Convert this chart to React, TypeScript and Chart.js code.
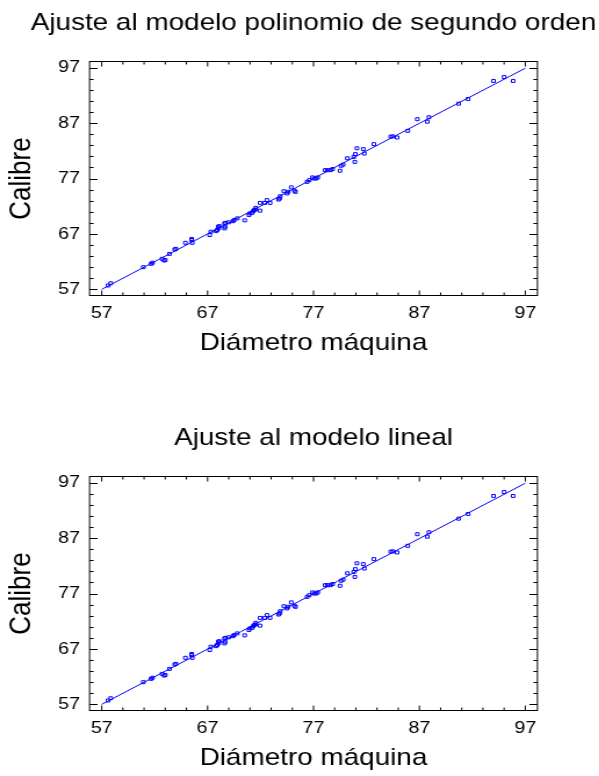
import React, { useEffect, useRef } from "react";
import { Chart, registerables } from "chart.js";

Chart.register(...registerables);

// ---- data ----
const diametro: number[] = [
  57.6, 57.85, 60.93, 61.66, 61.8, 62.7, 62.9, 63.0, 63.4, 63.9, 64.0, 64.9, 65.5, 65.5, 65.55,
  67.2, 67.3, 67.8, 67.9, 68.05, 68.1, 68.0, 68.6, 68.65, 68.6, 68.7, 69.0, 69.4, 69.5, 69.8,
  70.5, 70.9, 71.0, 71.2, 71.3, 71.4, 71.55, 71.5, 71.96, 71.95, 72.4, 72.6, 72.9, 73.7, 73.8,
  73.85, 74.2, 74.5, 74.6, 74.9, 75.3, 75.2, 76.4, 76.6, 76.9, 77.07, 77.25, 77.4, 78.1, 78.3,
  78.6, 78.8, 79.5, 79.6, 79.8, 80.2, 80.8, 80.95, 80.9, 81.1, 81.7, 81.8, 82.7, 84.3, 84.5,
  84.9, 85.9, 86.8, 87.75, 87.9, 90.7, 91.6, 94.0, 95.0, 95.85,
];
const calibre: number[] = [
  57.7, 58.1, 61.0, 61.6, 61.8, 62.5, 62.2, 62.3, 63.4, 64.2, 64.3, 65.4, 65.9, 66.1, 65.4,
  66.8, 67.4, 67.5, 67.7, 68.0, 68.4, 68.3, 68.0, 68.3, 68.9, 69.0, 69.1, 69.3, 69.5, 69.8,
  69.45, 70.4, 70.7, 70.8, 71.1, 71.3, 71.7, 71.4, 72.6, 71.2, 72.6, 73.1, 72.6, 73.2, 73.4,
  73.8, 74.7, 74.3, 74.6, 75.4, 74.6, 74.8, 76.4, 76.7, 77.2, 77.0, 77.0, 77.2, 78.5, 78.5,
  78.5, 78.7, 78.4, 79.3, 79.5, 80.65, 80.9, 81.4, 80.0, 82.45, 82.3, 81.5, 83.2, 84.55, 84.6,
  84.4, 85.6, 87.7, 87.25, 88.05, 90.5, 91.35, 94.6, 95.3, 94.6,
];

// fitted lines
const fitPolyX: number[] = [57, 77, 97];
const fitPolyY: number[] = [57.0, 77.0, 96.9];
const fitLinX: number[] = [57, 97];
const fitLinY: number[] = [57.0, 96.9];

const majorTicks: number[] = [57, 67, 77, 87, 97];
const minorTicks: number[] = [57, 59, 61, 63, 65, 67, 69, 71, 73, 75, 77, 79, 81, 83, 85, 87, 89, 91, 93, 95, 97];
const axisMin = 55.8;
const axisMax = 98.2;

const titlePoly = "Ajuste al modelo polinomio de segundo orden";
const titleLin = "Ajuste al modelo lineal";
const xTitle = "Diámetro máquina";
const yTitle = "Calibre";

const FONT = "'Liberation Sans', Arial, Helvetica, sans-serif";
const BLUE = "#0000ff";

// The reference is drawn slightly wider than tall: the canvas is rendered
// narrower and shown stretched horizontally.
const DISPLAY_W = 627;
const CANVAS_W = 540;
const CANVAS_H = 361;
const SX = DISPLAY_W / CANVAS_W;
const SIDE = 89 / SX; // y-axis box width (internal px)

const framePlugin = {
  id: "frameTicks",
  afterDatasetsDraw(chart: any) {
    const { ctx, chartArea } = chart;
    const { left, right, top, bottom } = chartArea;
    const xs = chart.scales.x;
    const ys = chart.scales.y;
    ctx.save();
    ctx.strokeStyle = "#000";
    ctx.lineWidth = 1;
    const L = left + 0.5;
    const R = right - 0.5;
    const T = Math.round(top) + 0.5;
    const B = Math.round(bottom) - 0.5;
    ctx.strokeRect(L, T, R - L, B - T);
    ctx.beginPath();
    for (const v of minorTicks) {
      const major = majorTicks.includes(v);
      const px = xs.getPixelForValue(v);
      const lx = major ? 5 : 3;
      ctx.moveTo(px, B);
      ctx.lineTo(px, B - lx);
      ctx.moveTo(px, T);
      ctx.lineTo(px, T + lx);
      const py = Math.round(ys.getPixelForValue(v)) + 0.5;
      const ly = (major ? 8 : 4) / SX;
      ctx.moveTo(L, py);
      ctx.lineTo(L + ly, py);
      ctx.moveTo(R, py);
      ctx.lineTo(R - ly, py);
    }
    ctx.stroke();
    ctx.restore();
  },
};

function makeConfig(title: string, fx: number[], fy: number[]): any {
  const pts = diametro.map((x, i) => ({ x, y: calibre[i] }));
  const line = fx.map((x, i) => ({ x, y: fy[i] }));
  const setTicks = (scale: any) => {
    scale.ticks = majorTicks.map((v) => ({ value: v }));
  };
  return {
    type: "scatter",
    data: {
      datasets: [
        {
          type: "line",
          data: line,
          borderColor: BLUE,
          borderWidth: 1,
          pointRadius: 0,
          fill: false,
          tension: 0.4,
          showLine: true,
        },
        {
          data: pts,
          pointStyle: "rect",
          pointRadius: 2.1,
          pointBorderWidth: 1,
          pointBorderColor: BLUE,
          pointBackgroundColor: "rgba(0,0,0,0)",
          borderColor: BLUE,
          backgroundColor: "rgba(0,0,0,0)",
        },
      ],
    },
    options: {
      responsive: false,
      animation: false,
      devicePixelRatio: 1,
      layout: { padding: 0 },
      plugins: {
        legend: { display: false },
        tooltip: { enabled: false },
        title: {
          display: true,
          text: title,
          color: "#000",
          font: { family: FONT, size: 24, weight: "normal", lineHeight: 1.2 },
          padding: { top: 9, bottom: 23.2 },
        },
      },
      scales: {
        x: {
          type: "linear",
          min: axisMin,
          max: axisMax,
          afterBuildTicks: setTicks,
          afterFit: (s: any) => {
            s.height = 65;
          },
          grid: { display: false, drawTicks: false },
          border: { display: false },
          ticks: {
            color: "#000",
            padding: 6.8,
            maxRotation: 0,
            autoSkip: false,
            font: { family: FONT, size: 17, lineHeight: 1.2 },
            callback: (v: any) => String(v),
          },
          title: {
            display: true,
            text: xTitle,
            color: "#000",
            padding: { top: 0, bottom: 3 },
            font: { family: FONT, size: 24, lineHeight: 1.2 },
          },
        },
        y: {
          type: "linear",
          position: "left",
          min: axisMin,
          max: axisMax,
          afterBuildTicks: setTicks,
          afterFit: (s: any) => {
            s.width = SIDE;
          },
          grid: { display: false, drawTicks: false },
          border: { display: false },
          ticks: {
            color: "#000",
            padding: 7.7,
            autoSkip: false,
            font: { family: FONT, size: 17, lineHeight: 1.2 },
            callback: (v: any) => String(v),
          },
          title: {
            display: true,
            text: yTitle,
            color: "#000",
            padding: { top: 3.3, bottom: 0 },
            font: { family: FONT, size: 26, lineHeight: 1.2 },
          },
        },
        yRight: {
          type: "linear",
          position: "right",
          display: true,
          min: axisMin,
          max: axisMax,
          afterFit: (s: any) => {
            s.width = SIDE;
          },
          grid: { display: false, drawTicks: false },
          border: { display: false },
          ticks: { display: false },
          title: { display: false },
        },
      },
    },
    plugins: [framePlugin],
  };
}

function ChartCanvas(props: { title: string; fx: number[]; fy: number[]; top: number }) {
  const ref = useRef<HTMLCanvasElement | null>(null);
  useEffect(() => {
    if (!ref.current) return;
    const chart = new Chart(ref.current, makeConfig(props.title, props.fx, props.fy));
    return () => chart.destroy();
  }, []);
  return (
    <canvas
      ref={ref}
      width={CANVAS_W}
      height={CANVAS_H}
      style={{
        position: "absolute",
        left: 0,
        top: props.top,
        width: DISPLAY_W,
        height: CANVAS_H,
      }}
    />
  );
}

export default function App() {
  return (
    <div
      style={{
        position: "fixed",
        left: 0,
        top: 0,
        width: 599,
        height: 776,
        overflow: "hidden",
        background: "#fff",
      }}
    >
      <ChartCanvas title={titlePoly} fx={fitPolyX} fy={fitPolyY} top={0} />
      <ChartCanvas title={titleLin} fx={fitLinX} fy={fitLinY} top={415} />
    </div>
  );
}
